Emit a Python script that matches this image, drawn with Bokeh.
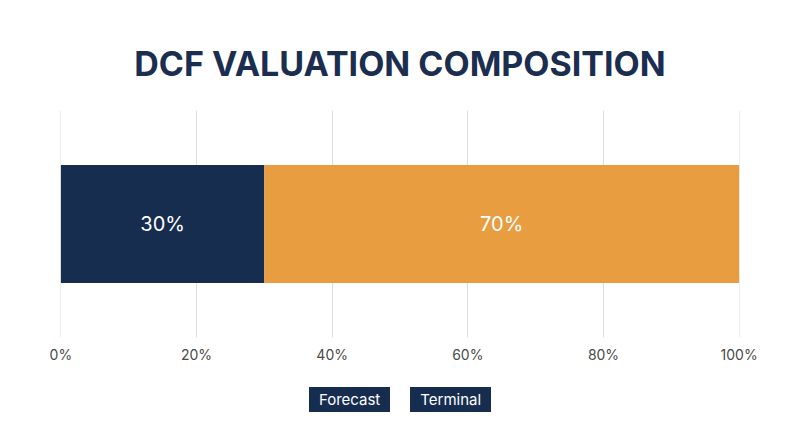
import numpy as np
from bokeh.plotting import figure
from bokeh.models import Range1d, FactorRange, FixedTicker, PrintfTickFormatter, Div, ColumnDataSource
from bokeh.layouts import column
from bokeh.embed import file_html
from bokeh.resources import INLINE
from bokeh.core.properties import value

title_text = "DCF VALUATION COMPOSITION"
row_name = ["DCF"]
components = ["Forecast", "Terminal"]
shares = [30, 70]
colors = ["#162D50", "#E89D41"]
ticks = [0, 20, 40, 60, 80, 100]

FONT = "Inter"
NAVY = "#162D50"

p = figure(width=784, height=370, output_backend="svg", toolbar_location=None,
           x_range=Range1d(-0.05, 100.05), y_range=FactorRange(*row_name, range_padding=0),
           min_border_left=60, min_border_right=45, min_border_top=110, min_border_bottom=33)

p.title.text = title_text
p.title.align = "center"
p.title.text_font = FONT
p.title.text_font_size = "34px"
p.title.text_font_style = "bold"
p.title.text_color = "#1B2E4F"
p.title.offset = 0
p.title.standoff = 54

rights = np.cumsum(shares)
lefts = rights - np.array(shares)
src = ColumnDataSource(dict(
    y=row_name * len(shares),
    left=lefts, right=rights, color=colors,
    label=[f"{s}%" for s in shares],
    mid=(lefts + rights) / 2,
))
p.hbar(y="y", left="left", right="right", height=0.52, fill_color="color",
       line_color=None, source=src)
p.text(x="mid", y="y", text="label", source=src, text_align="center",
       text_baseline="middle", text_color="white", text_font=value(FONT),
       text_font_size="20px")

p.xaxis.ticker = FixedTicker(ticks=ticks)
p.xaxis.formatter = PrintfTickFormatter(format="%d%%")
p.xaxis.axis_line_color = None
p.xaxis.major_tick_line_color = None
p.xaxis.minor_tick_line_color = None
p.xaxis.major_label_text_font = FONT
p.xaxis.major_label_text_font_size = "14px"
p.xaxis.major_label_text_color = "#4A4A4A"
p.xaxis.major_label_standoff = 2
p.yaxis.visible = False
p.ygrid.grid_line_color = None
p.xgrid.grid_line_color = "#DCDCDC"
p.xgrid.grid_line_width = 1
p.outline_line_color = None

items = "".join(
    f'<span style="background:{NAVY};color:white;font-family:{FONT};font-size:15px;'
    f'padding:0 10px;height:25px;line-height:25px;display:inline-block;">{c}</span>'
    for c in components)
legend = Div(text=f'<div style="display:flex;justify-content:center;gap:20px;width:790px;margin-top:12px;">{items}</div>',
             width=784, height=60)

layout = column(p, legend, spacing=0)
open("out.html", "w").write(file_html(layout, INLINE))
